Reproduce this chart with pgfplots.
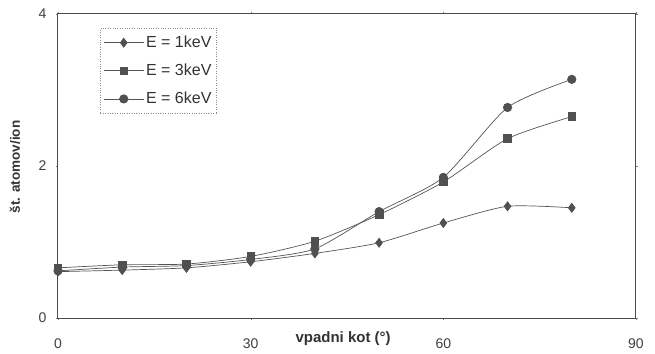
\documentclass[border=0pt]{standalone}
\usepackage{pgfplots}
\pgfplotsset{compat=1.18}
\usepackage{fontspec}
\setmainfont{Liberation Sans}
\definecolor{ln}{HTML}{555555}
\definecolor{mk}{HTML}{505050}
\begin{document}
\begin{tikzpicture}[x=1pt,y=1pt]
\useasboundingbox (-58,-35) rectangle (597,318);
\fill[white] (-58,-35) rectangle (597,318);
\begin{axis}[
  at={(0,0)}, anchor=south west, clip=false,
  scale only axis, width=578pt, height=304pt,
  xmin=0, xmax=90, ymin=0, ymax=4,
  xtick={0,30,60,90}, ytick={0,2,4},
  /pgf/number format/assume math mode=true,
  tick label style={font=\fontsize{14}{14}\selectfont, text=black!75},
  xticklabel style={yshift=-15pt},
  yticklabel style={xshift=-6pt},
  tick align=outside, major tick length=2pt,
  axis line style={black!70, line width=1pt},
  every axis plot/.append style={line width=0.7pt, color=ln, smooth, tension=0.4},
  ylabel={\bfseries št. atomov/ion},
  ylabel style={font=\fontsize{13.5}{13.5}\selectfont, text=black!80, at={(-43pt,151pt)}, anchor=center},
  legend style={at={(0.073,0.954)}, anchor=north west, draw=black!45, dotted, font=\fontsize{16}{16}\selectfont, text=black!80, row sep=11pt, inner xsep=3pt, inner ysep=6pt, legend cell align=left},
  legend image code/.code={\draw[solid,#1] (0pt,0pt) -- (40pt,0pt); \draw[solid,#1,only marks] plot coordinates {(20pt,0pt)};},
]
\addplot[mark=diamond*, mark size=4.5pt, mark options={fill=mk, draw=mk, solid}] coordinates {
(0,0.61) (10,0.63) (20,0.66) (30,0.74) (40,0.85) (50,0.99) (60,1.25) (70,1.47) (80,1.45)};
\addlegendentry{E = 1keV}
\addplot[mark=square*, mark size=3.8pt, mark options={fill=mk, draw=mk, solid}] coordinates {
(0,0.66) (10,0.70) (20,0.71) (30,0.81) (40,1.01) (50,1.36) (60,1.79) (70,2.36) (80,2.65)};
\addlegendentry{E = 3keV}
\addplot[mark=*, mark size=4.2pt, mark options={fill=mk, draw=mk, solid}] coordinates {
(0,0.62) (10,0.67) (20,0.69) (30,0.77) (40,0.91) (50,1.40) (60,1.85) (70,2.77) (80,3.14)};
\addlegendentry{E = 6keV}
\node[font=\bfseries\fontsize{15}{15}\selectfont, text=black!80] at (axis cs:44.4,0) [yshift=-21pt] {vpadni kot (°)};
\end{axis}
\end{tikzpicture}
\end{document}
